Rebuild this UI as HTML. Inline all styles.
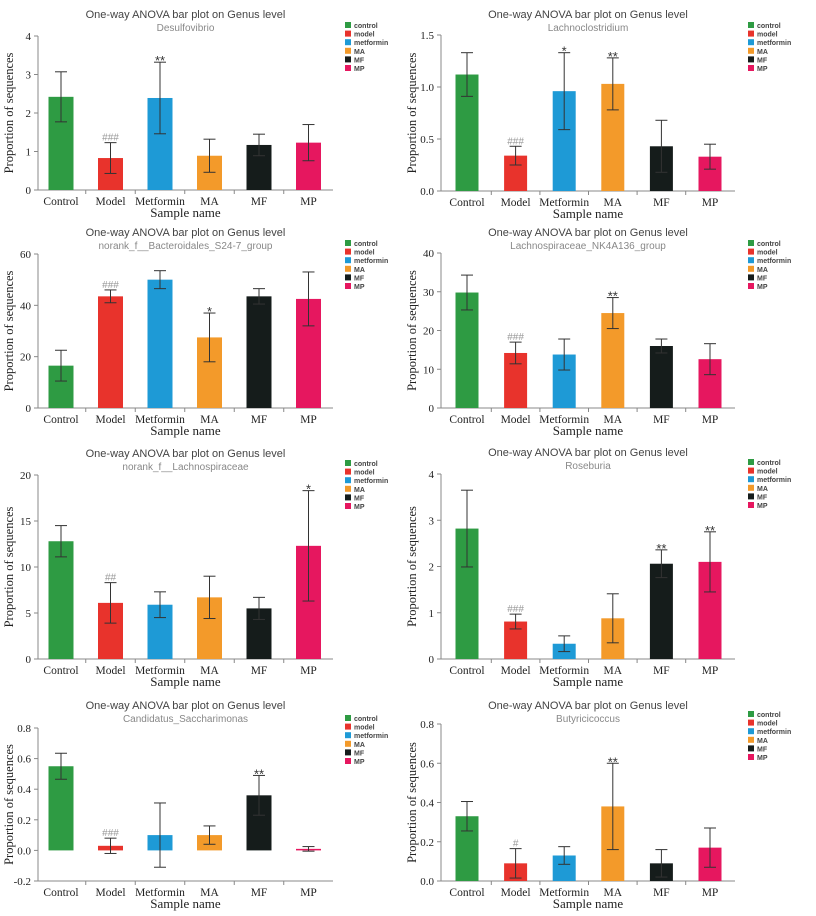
<!DOCTYPE html>
<html><head><meta charset="utf-8"><style>
body{margin:0;background:#fff;}
svg{display:block;}
</style></head><body>
<svg id="fig" width="816" height="916" xmlns="http://www.w3.org/2000/svg"></svg>
<script>
const categories=["Control","Model","Metformin","MA","MF","MP"];
const legendLabels=["control","model","metformin","MA","MF","MP"];
const colors=["#2e9b43","#e8332c","#1e9ad6","#f39a2a","#151c1b","#e6175f"];
const genera=["Desulfovibrio","Lachnoclostridium","norank_f__Bacteroidales_S24-7_group","Lachnospiraceae_NK4A136_group","norank_f__Lachnospiraceae","Roseburia","Candidatus_Saccharimonas","Butyricicoccus"];
const values1=[2.42,0.83,2.39,0.89,1.17,1.23];
const errors1=[0.65,0.4,0.93,0.43,0.28,0.47];
const sig1=["","###","**","","",""];
const ticks1=[0,1,2,3,4];
const values2=[1.12,0.34,0.96,1.03,0.43,0.33];
const errors2=[0.21,0.09,0.37,0.25,0.25,0.12];
const sig2=["","###","*","**","",""];
const ticks2=[0,0.5,1.0,1.5];
const values3=[16.5,43.5,50,27.5,43.5,42.5];
const errors3=[6,2.5,3.5,9.5,3,10.5];
const sig3=["","###","","*","",""];
const ticks3=[0,20,40,60];
const values4=[29.8,14.2,13.8,24.5,16,12.6];
const errors4=[4.5,2.8,4,4,1.8,4];
const sig4=["","###","","**","",""];
const ticks4=[0,10,20,30,40];
const values5=[12.8,6.1,5.9,6.7,5.5,12.3];
const errors5=[1.7,2.2,1.4,2.3,1.2,6];
const sig5=["","##","","","","*"];
const ticks5=[0,5,10,15,20];
const values6=[2.82,0.81,0.33,0.88,2.06,2.1];
const errors6=[0.83,0.16,0.17,0.53,0.3,0.65];
const sig6=["","###","","","**","**"];
const ticks6=[0,1,2,3,4];
const values7=[0.55,0.03,0.1,0.1,0.36,0.01];
const errors7=[0.085,0.05,0.21,0.06,0.13,0.015];
const sig7=["","###","","","**",""];
const ticks7=[-0.2,0,0.2,0.4,0.6,0.8];
const values8=[0.33,0.09,0.13,0.38,0.09,0.17];
const errors8=[0.075,0.075,0.045,0.22,0.07,0.1];
const sig8=["","#","","**","",""];
const ticks8=[0,0.2,0.4,0.6,0.8];
const tickDecimals=[0,1,0,0,0,0,1,1];

const NS="http://www.w3.org/2000/svg";
const svg=document.getElementById('fig');
function mk(tag,attrs,parent,text){const e=document.createElementNS(NS,tag);for(const k in attrs)e.setAttribute(k,attrs[k]);if(text!==undefined)e.textContent=text;(parent||svg).appendChild(e);return e;}

// layout: [axisX, axisRight, firstCenter, step, barW, yTopPx, yBotPx, titleY, legendX, legendY]
const layouts=[
 {ax:38,ar:333,c0:61,st:49.5,bw:25,top:36,bot:190,ty:18,lx:345,ly:22},
 {ax:441,ar:735,c0:467,st:48.6,bw:23,top:35,bot:191,ty:18,lx:748,ly:22},
 {ax:38,ar:333,c0:61,st:49.5,bw:25,top:254,bot:408,ty:236,lx:345,ly:240},
 {ax:441,ar:735,c0:467,st:48.6,bw:23,top:253,bot:408,ty:236,lx:748,ly:240},
 {ax:38,ar:333,c0:61,st:49.5,bw:25,top:475,bot:659,ty:457,lx:345,ly:460},
 {ax:441,ar:735,c0:467,st:48.6,bw:23,top:474,bot:659,ty:456,lx:748,ly:459},
 {ax:38,ar:333,c0:61,st:49.5,bw:25,top:728,bot:881,ty:709,lx:345,ly:715},
 {ax:441,ar:735,c0:467,st:48.6,bw:23,top:724,bot:881,ty:709,lx:748,ly:711}
];
const allVals=[values1,values2,values3,values4,values5,values6,values7,values8];
const allErr=[errors1,errors2,errors3,errors4,errors5,errors6,errors7,errors8];
const allSig=[sig1,sig2,sig3,sig4,sig5,sig6,sig7,sig8];
const allTicks=[ticks1,ticks2,ticks3,ticks4,ticks5,ticks6,ticks7,ticks8];

for(let p=0;p<8;p++){
 const L=layouts[p],vals=allVals[p],errs=allErr[p],sg=allSig[p],tk=allTicks[p];
 const tmin=tk[0],tmax=tk[tk.length-1];
 const y=v=>L.bot-(v-tmin)/(tmax-tmin)*(L.bot-L.top);
 const x=i=>L.c0+i*L.st;
 const g=mk('g',{});
 
 
 const cx=(L.ax+L.ar)/2;
 const t=mk('text',{x:cx,y:L.ty,'text-anchor':'middle','font-family':'Liberation Sans, sans-serif','font-size':'11',fill:'#444'},g,'One-way ANOVA bar plot on Genus level');
 
 
 const st=mk('text',{x:cx,y:L.ty+13,'text-anchor':'middle','font-family':'Liberation Sans, sans-serif','font-size':'10',fill:'#888'},g,genera[p]);
 
 
 // axes
 mk('line',{x1:L.ax,y1:L.top,x2:L.ax,y2:L.bot,stroke:'#888','stroke-width':1},g);
 mk('line',{x1:L.ax,y1:L.bot,x2:L.ar,y2:L.bot,stroke:'#888','stroke-width':1},g);
 tk.forEach(v=>{
  mk('line',{x1:L.ax-4,y1:y(v),x2:L.ax,y2:y(v),stroke:'#888'},g);
  const tl=mk('text',{x:L.ax-7,y:y(v)+4,'text-anchor':'end','font-family':'Liberation Serif, serif','font-size':'11',fill:'#222'},g,v.toFixed(tickDecimals[p]));
  
  
 });
 for(let i=1;i<6;i++){const xx=L.c0+(i-0.5)*L.st;mk('line',{x1:xx,y1:L.bot,x2:xx,y2:L.bot+4,stroke:'#888'},g);}
 const z=y(0);
 vals.forEach((v,i)=>{
  const top=Math.min(y(v),z),h=Math.abs(y(v)-z);
  const b=mk('rect',{x:x(i)-L.bw/2,y:top,width:L.bw,height:h,fill:colors[i]},g);
  
  
  const yh=y(v+errs[i]),yl=y(v-errs[i]);
  mk('line',{x1:x(i),y1:yh,x2:x(i),y2:yl,stroke:'#333','stroke-width':1},g);
  mk('line',{x1:x(i)-6,y1:yh,x2:x(i)+6,y2:yh,stroke:'#333'},g);
  mk('line',{x1:x(i)-6,y1:yl,x2:x(i)+6,y2:yl,stroke:'#333'},g);
  if(sg[i]){
   const isHash=sg[i][0]==='#';
   const s=mk('text',{x:x(i),y:yh-(isHash?2:1)+ (isHash?0:4),'text-anchor':'middle','font-family':'Liberation Sans, sans-serif','font-size':isHash?'10':'13',fill:isHash?'#999':'#333'},g,sg[i]);
   
   
  }
  const xl=mk('text',{x:x(i),y:L.bot+15,'text-anchor':'middle','font-family':'Liberation Serif, serif','font-size':'11.5',fill:'#222'},g,categories[i]);
  
  
 });
 const xt=mk('text',{x:cx,y:L.bot+27,'text-anchor':'middle','font-family':'Liberation Serif, serif','font-size':'13',fill:'#222'},g,'Sample name');
 
 
 const yx=L.ax-25,ym=(L.top+L.bot)/2;
 const yt=mk('text',{x:yx,y:ym,'text-anchor':'middle','font-family':'Liberation Serif, serif','font-size':'12.5',fill:'#222',transform:`rotate(-90 ${yx} ${ym})`},g,'Proportion of sequences');
 
 
 legendLabels.forEach((lb,i)=>{
  const ly=L.ly+i*8.6;
  const le=mk('g',{},g);
  
  
  mk('rect',{x:L.lx,y:ly,width:6,height:6,fill:colors[i]},le);
  mk('text',{x:L.lx+9,y:ly+6,'font-family':'Liberation Sans, sans-serif','font-size':'7','font-weight':'bold',fill:'#444'},le,lb);
 });
}
</script>
</body></html>
